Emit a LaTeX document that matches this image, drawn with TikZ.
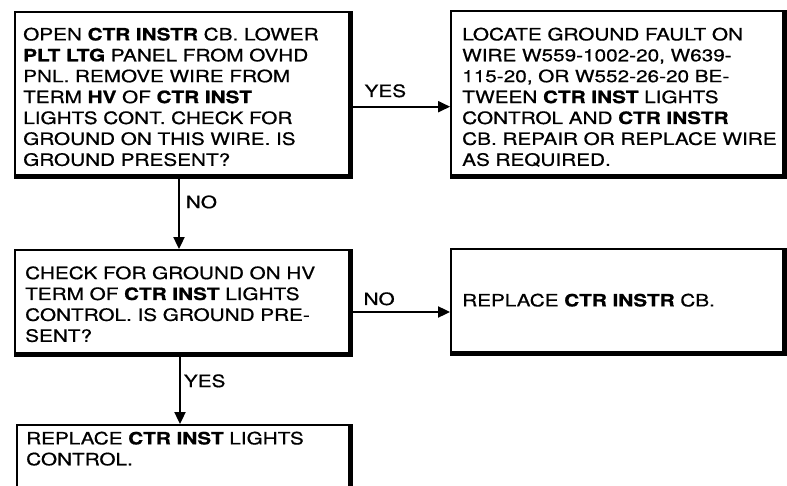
\documentclass[tikz,border=0pt]{standalone}
\usepackage{fontspec}
\setmainfont[FakeStretch=1.22, UprightFeatures={FakeBold=0.6}, BoldFeatures={FakeBold=1.0}]{TeX Gyre Heros}
\usetikzlibrary{arrows.meta}
\tikzset{
  boxshape/.style={draw, line width=1.8pt, rectangle, inner sep=0pt},
  heavyedge/.style={fill=black, draw=none},
  boxtext/.style={anchor=north west, inner sep=0pt, align=left, text width=330pt,
    font=\fontsize{17}{20.9}\selectfont},
  flow/.style={line width=1.8pt, -{Triangle[length=12pt,width=11pt]}},
  lbl/.style={font=\fontsize{17}{20}\selectfont, inner sep=0pt}
}
\newcommand\heavybox[1]{%
  \fill[heavyedge] ([yshift=-1pt]#1.south west) rectangle ([xshift=1pt,yshift=4pt]#1.south east);
  \fill[heavyedge] ([xshift=-4pt,yshift=-1pt]#1.south east) rectangle ([xshift=1pt]#1.north east);
}
\begin{document}
\begin{tikzpicture}[x=1pt,y=-1pt]
\useasboundingbox (0,0) rectangle (787,486);
\clip (0,0) rectangle (787,486);
\fill[white] (0,0) rectangle (787,486);
% boxes
\node[boxshape, minimum width=336pt, minimum height=165pt] (b1) at (183,94.5) {};
\node[boxshape, minimum width=334pt, minimum height=166pt] (b2) at (618,94) {};
\node[boxshape, minimum width=336pt, minimum height=105pt] (b3) at (183,302.5) {};
\node[boxshape, minimum width=334pt, minimum height=105pt] (b4) at (618,301.5) {};
\node[boxshape, minimum width=334pt, minimum height=80pt] (b5) at (184,465) {};
\heavybox{b1}
\heavybox{b2}
\heavybox{b3}
\heavybox{b4}
\heavybox{b5}
% texts
\node[boxtext] (t1) at (23,27.5)
 {OPEN \textbf{CTR INSTR} CB. LOWER\\
  \textbf{PLT LTG} PANEL FROM OVHD\\
  PNL. REMOVE WIRE FROM\\
  TERM \textbf{HV} OF \textbf{CTR INST}\\
  LIGHTS CONT. CHECK FOR\\
  GROUND ON THIS WIRE. IS\\
  GROUND PRESENT?};
\node[boxtext] (t2) at (462,27.5)
 {LOCATE GROUND FAULT ON\\
  WIRE W559-1002-20, W639-\\
  115-20, OR W552-26-20 BE-\\
  TWEEN \textbf{CTR INST} LIGHTS\\
  CONTROL AND \textbf{CTR INSTR}\\
  CB. REPAIR OR REPLACE WIRE\\
  AS REQUIRED.};
\node[boxtext] (t3) at (25,266.2)
 {CHECK FOR GROUND ON HV\\
  TERM OF \textbf{CTR INST} LIGHTS\\
  CONTROL. IS GROUND PRE-\\
  SENT?};
\node[boxtext] (t4) at (462,293.5)
 {REPLACE \textbf{CTR INSTR} CB.};
\node[boxtext] (t5) at (26,431.5)
 {REPLACE \textbf{CTR INST} LIGHTS\\
  CONTROL.};
% connectors
\draw[flow] (b1.east |- 0,106.7) -- node[lbl, pos=0.12, anchor=base west, yshift=9.7pt] {YES} (b2.west |- 0,106.7);
\draw[flow] (b1.south -| 179,0) -- node[lbl, pos=0.425, anchor=base west, xshift=6pt] {NO} (b3.north -| 179,0);
\draw[flow] (b3.east |- 0,312) -- node[lbl, pos=0.11, anchor=base west, yshift=7pt] {NO} (b4.west |- 0,312);
\draw[flow] (b3.south -| 180,0) -- node[lbl, pos=0.457, anchor=base west, xshift=3pt] {YES} (b5.north -| 180,0);
\end{tikzpicture}
\end{document}
